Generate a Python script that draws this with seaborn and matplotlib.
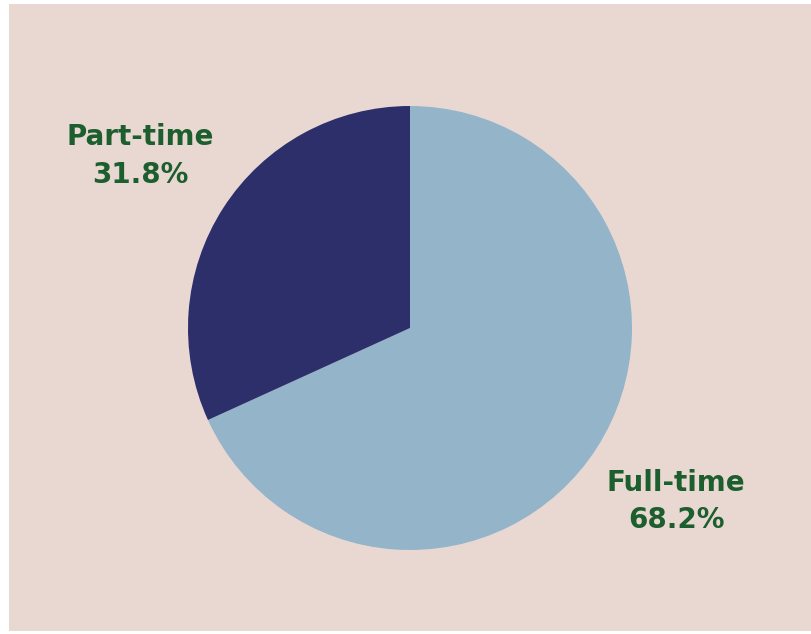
import matplotlib
matplotlib.use("Agg")
import matplotlib.pyplot as plt
import seaborn as sns
from matplotlib.patches import Rectangle

# chart data
categories = ["Full-time", "Part-time"]
shares = [68.2, 31.8]
colors = ["#93b4c9", "#2d2f6b"]

sns.set_theme(style="white")
plt.rcParams['font.family'] = ['DejaVu Sans']

fig = plt.figure(figsize=(8.11, 6.34), dpi=100, facecolor="white")

# pink panel behind everything
fig.patches.append(Rectangle((9 / 811, 3 / 634), 802 / 811, 627 / 634,
                             transform=fig.transFigure, facecolor="#e9d8d2",
                             edgecolor="none", zorder=-5))

ax = fig.add_axes([188 / 811, 84 / 634, 444 / 811, 444 / 634])
ax.set_zorder(2)
ax.set_facecolor("none")
ax.pie(shares, colors=colors, startangle=90, counterclock=False,
       wedgeprops=dict(linewidth=0))
ax.set_aspect("equal")
ax.set_xlim(-1, 1)
ax.set_ylim(-1, 1)
ax.axis("off")

# labels placed outside the pie (name line, value line)
label_pos = {"Part-time": (140, 137, 175),
             "Full-time": (676, 483, 520)}
for cat, val in zip(categories, shares):
    x, y1, y2 = label_pos[cat]
    for txt, y in ((cat, y1), (f"{val:.1f}%", y2)):
        fig.text(x / 811, 1 - y / 634, txt, ha="center", va="center",
                 fontsize=20, fontweight="bold", color="#1d5e2e")

fig.savefig("out.png", dpi=100, facecolor=fig.get_facecolor())
